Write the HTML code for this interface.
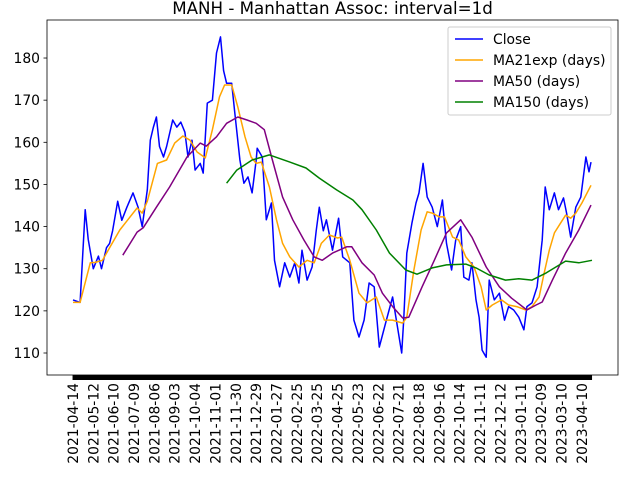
<!DOCTYPE html>
<html><head><meta charset="utf-8"><style>
html,body{margin:0;padding:0;background:#fff;}
svg{display:block;font-family:"DejaVu Sans","Liberation Sans",sans-serif;}
</style></head><body>
<svg id="chart" width="640" height="480" viewBox="0 0 640 480" xmlns="http://www.w3.org/2000/svg">
<rect x="0" y="0" width="640" height="480" fill="#fff"/>
<text x="332.5" y="14" text-anchor="middle" font-size="16.7">MANH - Manhattan Assoc: interval=1d</text>
<g id="plot"></g>
</svg>
<script>
const tickDates=["2021-04-14","2021-05-12","2021-06-10","2021-07-09","2021-08-06","2021-09-03","2021-10-04","2021-11-01","2021-11-30","2021-12-29","2022-01-27","2022-02-25","2022-03-25","2022-04-25","2022-05-23","2022-06-22","2022-07-21","2022-08-18","2022-09-16","2022-10-14","2022-11-11","2022-12-12","2023-01-11","2023-02-09","2023-03-10","2023-04-10"];
const yTicks=[110,120,130,140,150,160,170,180];
const closeDays=[0,7,12,15,20,25,28,33,36,39,44,48,53,59,64,68,73,76,79,82,85,89,92,98,102,106,110,113,117,120,125,128,132,137,141,145,148,151,156,159,164,168,172,176,180,181,186,190,195,198,203,208,213,218,222,225,230,235,239,242,246,249,255,261,265,272,276,281,286,291,296,301,308,314,319,323,325,328,333,337,340,344,348,353,358,363,367,372,376,381,384,389,392,396,399,402,406,409,414,419,424,428,433,438,443,446,451,456,461,464,468,473,477,482,485,489,494,499,504,507,509];
const closeVals=[122.6,122,144,137,130,133,130,135,136,139,146,141.5,144.6,148,144.6,140,148.7,160.5,163.6,166,159,156.5,159,165.3,163.6,164.8,162.4,156.5,160.5,153.4,155,152.7,169.3,170,181.2,185,177,174,174,167,155.8,150.3,151.8,148,155.8,158.6,156.5,141.6,145.6,132,125.7,131.4,128,131.4,126.6,134.4,127.3,130.4,139,144.6,139,141.6,134.4,142,132.8,131.4,117.8,113.8,117.8,126.6,125.7,111.4,117.8,123.3,116,110,117.8,133.7,140.8,145.6,148,155,147,144.6,140,146.3,136,129.7,136.8,140,128,127.3,131.4,122.6,118.5,110.7,109,127.3,122.6,124.2,117.8,121,120.2,118.5,115.5,121,121.9,125.7,136.8,149.4,144,148,144,146.8,143.2,137.5,144.6,147,156.5,153,155.3];
const emaDays=[0,7,17,22,29,36,46,63,68,73,83,92,100,108,115,122,130,137,144,149,156,162,169,175,180,185,193,200,206,213,222,230,237,244,252,260,264,272,281,289,298,306,314,324,328,335,342,348,353,360,365,373,379,386,394,401,406,412,421,428,436,445,451,458,463,468,473,479,484,489,494,500,509];
const emaVals=[122,122,131.4,131.5,132,135,139.2,144.4,143.2,146,155,155.8,159.8,161.5,160.5,157.7,156.3,163,170.8,173.6,173.6,168.4,161.3,156.5,155,155.3,149.4,141.6,136,132.8,130.4,132,131.4,136,138,137.3,137.5,132,124.2,121.9,123.3,117.8,117.8,117.1,118.5,129.7,139.2,143.5,143.2,142.3,142.3,137.5,136.8,132.8,130.4,125.7,120.2,121.4,122.6,121.4,121,120.2,121,123.3,129,134.4,138.5,140.8,142.7,142,143.2,145.6,149.8];
const ma50Days=[49,63,69,82,95,112,125,131,141,151,162,171,180,188,196,206,216,227,237,245,255,269,274,284,296,304,314,324,330,343,355,367,381,392,406,419,431,446,455,461,471,484,497,509];
const ma50Vals=[133.2,138.7,139.7,144.6,149.4,156.5,159.8,159.1,161.3,164.5,166,165.3,164.5,163,155.8,147,141.6,136.8,132.8,132,133.7,135.2,135.2,131.4,128.5,124.2,121,118.3,118.5,125.7,132,138.5,141.6,137.5,130.4,125.7,123,120.2,121.4,122.1,127.3,133.7,139.2,145.1];
const ma150Days=[151,161,176,193,213,229,242,259,275,284,298,311,327,338,353,367,386,396,409,425,438,451,465,484,497,510];
const ma150Vals=[150.3,153.4,155.8,157,155.3,153.9,151.5,148.7,146.3,144,139.2,133.7,129.7,128.7,130.2,130.9,131.1,130.2,128.5,127.3,127.6,127.3,129,131.8,131.4,132];

const NS="http://www.w3.org/2000/svg";
const P={l:47,r:618,t:20,b:375};
const xDomain=[-25.5,535.5];
function X(d){return P.l+(d-xDomain[0])/(xDomain[1]-xDomain[0])*(P.r-P.l);}
function Y(v){return 353-(v-110)*42.14/10;}
const plot=document.getElementById('plot');
function mk(tag,attrs,parent){const e=document.createElementNS(NS,tag);for(const k in attrs)e.setAttribute(k,attrs[k]);(parent||plot).appendChild(e);return e;}

const minor=mk('rect',{x:X(0),y:P.b,width:X(510)-X(0),height:5,fill:'#000'});



tickDates.forEach((d,k)=>{
  const x=X(k*20);
  const t=mk('line',{x1:x,x2:x,y1:P.b,y2:P.b+5,stroke:'#000','stroke-width':0.8});
  
  
  const tx=mk('text',{x:0,y:0,'font-size':13.9,'text-anchor':'end',transform:`translate(${x+5},383) rotate(-90)`});
  tx.textContent=d;
  
  
});
yTicks.forEach(v=>{
  const y=Y(v);
  const t=mk('line',{x1:P.l-3.5,x2:P.l,y1:y,y2:y,stroke:'#000','stroke-width':0.8});
  
  
  const tx=mk('text',{x:P.l-7,y:y+5,'font-size':13.9,'text-anchor':'end'});
  tx.textContent=v;
  
  
});

function series(days,vals,color,name){
  const pts=days.map((d,i)=>X(d).toFixed(1)+','+Y(vals[i]).toFixed(1)).join(' ');
  const pl=mk('polyline',{points:pts,fill:'none',stroke:color,'stroke-width':1.5,'stroke-linejoin':'round'});
  
  
}
series(closeDays,closeVals,'#0000ff','close-line');
series(emaDays,emaVals,'#ffa500','ma21exp-line');
series(ma50Days,ma50Vals,'#800080','ma50-line');
series(ma150Days,ma150Vals,'#008000','ma150-line');

const frame=mk('rect',{x:P.l,y:P.t,width:P.r-P.l,height:P.b-P.t,fill:'none',stroke:'#000','stroke-width':0.8});



const lg=mk('g',{});


const lb=mk('rect',{x:448,y:27,width:163,height:88,rx:2,fill:'#fff','fill-opacity':0.8,stroke:'#ccc','stroke-width':1},lg);


const legendLabels=["Close","MA21exp (days)","MA50 (days)","MA150 (days)"];
const legendColors=['#0000ff','#ffa500','#800080','#008000'];
legendLabels.forEach((lab,i)=>{
  const y=39+i*21;
  const g=mk('g',{},lg);
  
  
  mk('line',{x1:455,x2:483,y1:y,y2:y,stroke:legendColors[i],'stroke-width':1.5},g);
  const t=mk('text',{x:493,y:y+5,'font-size':13.9},g);
  t.textContent=lab;
});
</script>
</body></html>
